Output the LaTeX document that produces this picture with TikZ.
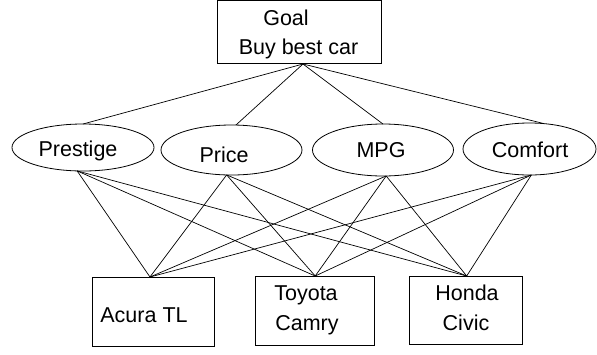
\documentclass[tikz,border=0pt]{standalone}
\usepackage{fontspec}
\setmainfont{Liberation Sans}
\usetikzlibrary{shapes.geometric}
\begin{document}
\begin{tikzpicture}[x=1pt,y=-1pt,
  every node/.style={inner sep=0pt, outer sep=0pt},
  boxnode/.style={draw, rectangle, line width=0.8pt},
  ellnode/.style={draw, ellipse, line width=0.8pt},
  lbl/.style={anchor=base, font=\fontsize{21.5}{25}\selectfont},
  link/.style={line width=0.7pt}]
\useasboundingbox (0,0) rectangle (597,354);
% goal box
\node[boxnode, minimum width=164pt, minimum height=63pt] (goal) at (299,32) {};
\node[lbl] (goalt1) at (286,25) {Goal};
\node[lbl] (goalt2) at (298.5,54) {Buy best car};
\coordinate (gport) at (303,64);
% criteria ellipses
\node[ellnode, minimum width=142pt, minimum height=47pt] (prestige) at (83,147.5) {};
\node[ellnode, minimum width=141pt, minimum height=50pt] (price) at (231.5,150) {};
\node[ellnode, minimum width=141pt, minimum height=52pt] (mpg) at (383,150) {};
\node[ellnode, minimum width=133pt, minimum height=52pt] (comfort) at (529.5,149) {};
\node[lbl] (prestiget) at (78,156.7) {Prestige};
\node[lbl] (pricet) at (224,162.3) {Price};
\node[lbl] (mpgt) at (381,157.7) {MPG};
\node[lbl] (comfortt) at (530,157.7) {Comfort};
% alternatives
\node[boxnode, minimum width=122pt, minimum height=69pt] (acura) at (153,311.5) {};
\node[boxnode, minimum width=119pt, minimum height=69pt] (toyota) at (315.2,310.5) {};
\node[boxnode, minimum width=113pt, minimum height=68pt] (honda) at (465.5,310) {};
\node[lbl] (acurat) at (144,322) {Acura TL};
\node[lbl] (toyotat1) at (306,300.7) {Toyota};
\node[lbl] (toyotat2) at (307,330.7) {Camry};
\node[lbl] (hondat1) at (467,300.7) {Honda};
\node[lbl] (hondat2) at (466,330.7) {Civic};
% goal links
\draw[link] (gport) -- (prestige.north);
\draw[link] (gport) -- (price.80);
\draw[link] (gport) -- (mpg.north);
\draw[link] (gport) -- (comfort.60);
% criteria to alternatives
\foreach \c/\a in {prestige/256, price/259, mpg/277, comfort/274}{
  \draw[link] (\c.\a) -- (acura.95);
  \draw[link] (\c.\a) -- (toyota.north);
  \draw[link] (\c.\a) -- (honda.88);
}
\end{tikzpicture}
\end{document}
